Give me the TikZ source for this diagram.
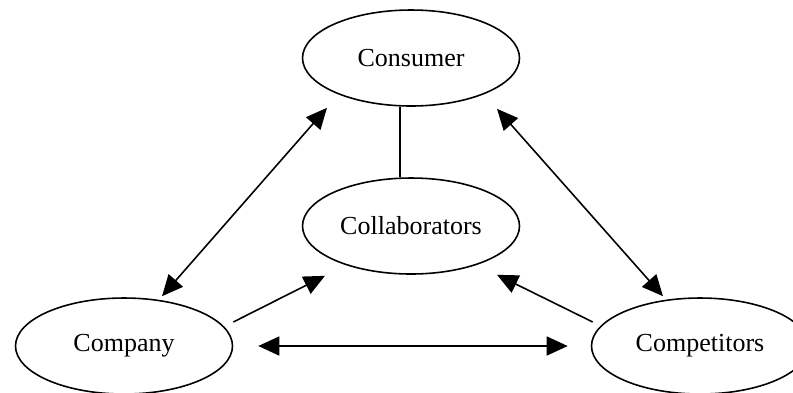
\documentclass[tikz,border=0pt]{standalone}
\usepackage{fontspec}
\setmainfont{Liberation Serif}
\usepackage{tikz}
\usetikzlibrary{shapes.geometric, arrows.meta, positioning}
\tikzset{actor/.style={ellipse,draw,line width=0.9pt,inner sep=0pt,minimum width=4.34cm,minimum height=1.92cm,font=\fontsize{14.8}{18}\selectfont},
         link/.style={line width=0.9pt},
         arrow/.style={-{Triangle[length=4.2mm,width=3.8mm]},line width=0.9pt},
         twoway/.style={{Triangle[length=4.2mm,width=3.8mm]}-{Triangle[length=4.2mm,width=3.8mm]},line width=0.9pt}}

\begin{document}
\begin{tikzpicture}[x=1cm,y=1cm]
    \useasboundingbox (0,0) rectangle (15.86,-7.84);
    % Actors
    \node (consumer) at (8.22,-1.16) [actor]{Consumer};
    \node (collab) at (8.22,-4.52) [actor]{Collaborators};
    \node (company) at (2.48,-6.92) [actor]{Company};
    \node (compet) at (14.0,-6.92) [actor]{Competitors};
    % Links
    \draw[link] ([xshift=-0.22cm]consumer.south) -- ([xshift=-0.22cm]collab.north);
    \draw[twoway] ([xshift=-1.68cm,yshift=-0.02cm]consumer.south) -- ([xshift=0.76cm,yshift=0.02cm]company.north);
    \draw[twoway] ([xshift=1.72cm,yshift=-0.04cm]consumer.south) -- ([xshift=-0.74cm,yshift=0.02cm]compet.north);
    \draw[arrow] ([yshift=0.48cm]company.east) -- ([xshift=-1.72cm,yshift=-0.02cm]collab.south);
    \draw[arrow] ([xshift=0.04cm,yshift=0.48cm]compet.west) -- ([xshift=1.72cm]collab.south);
    \draw[twoway] ([xshift=0.5cm]company.east) -- ([xshift=-0.46cm]compet.west);
\end{tikzpicture}
\end{document}
